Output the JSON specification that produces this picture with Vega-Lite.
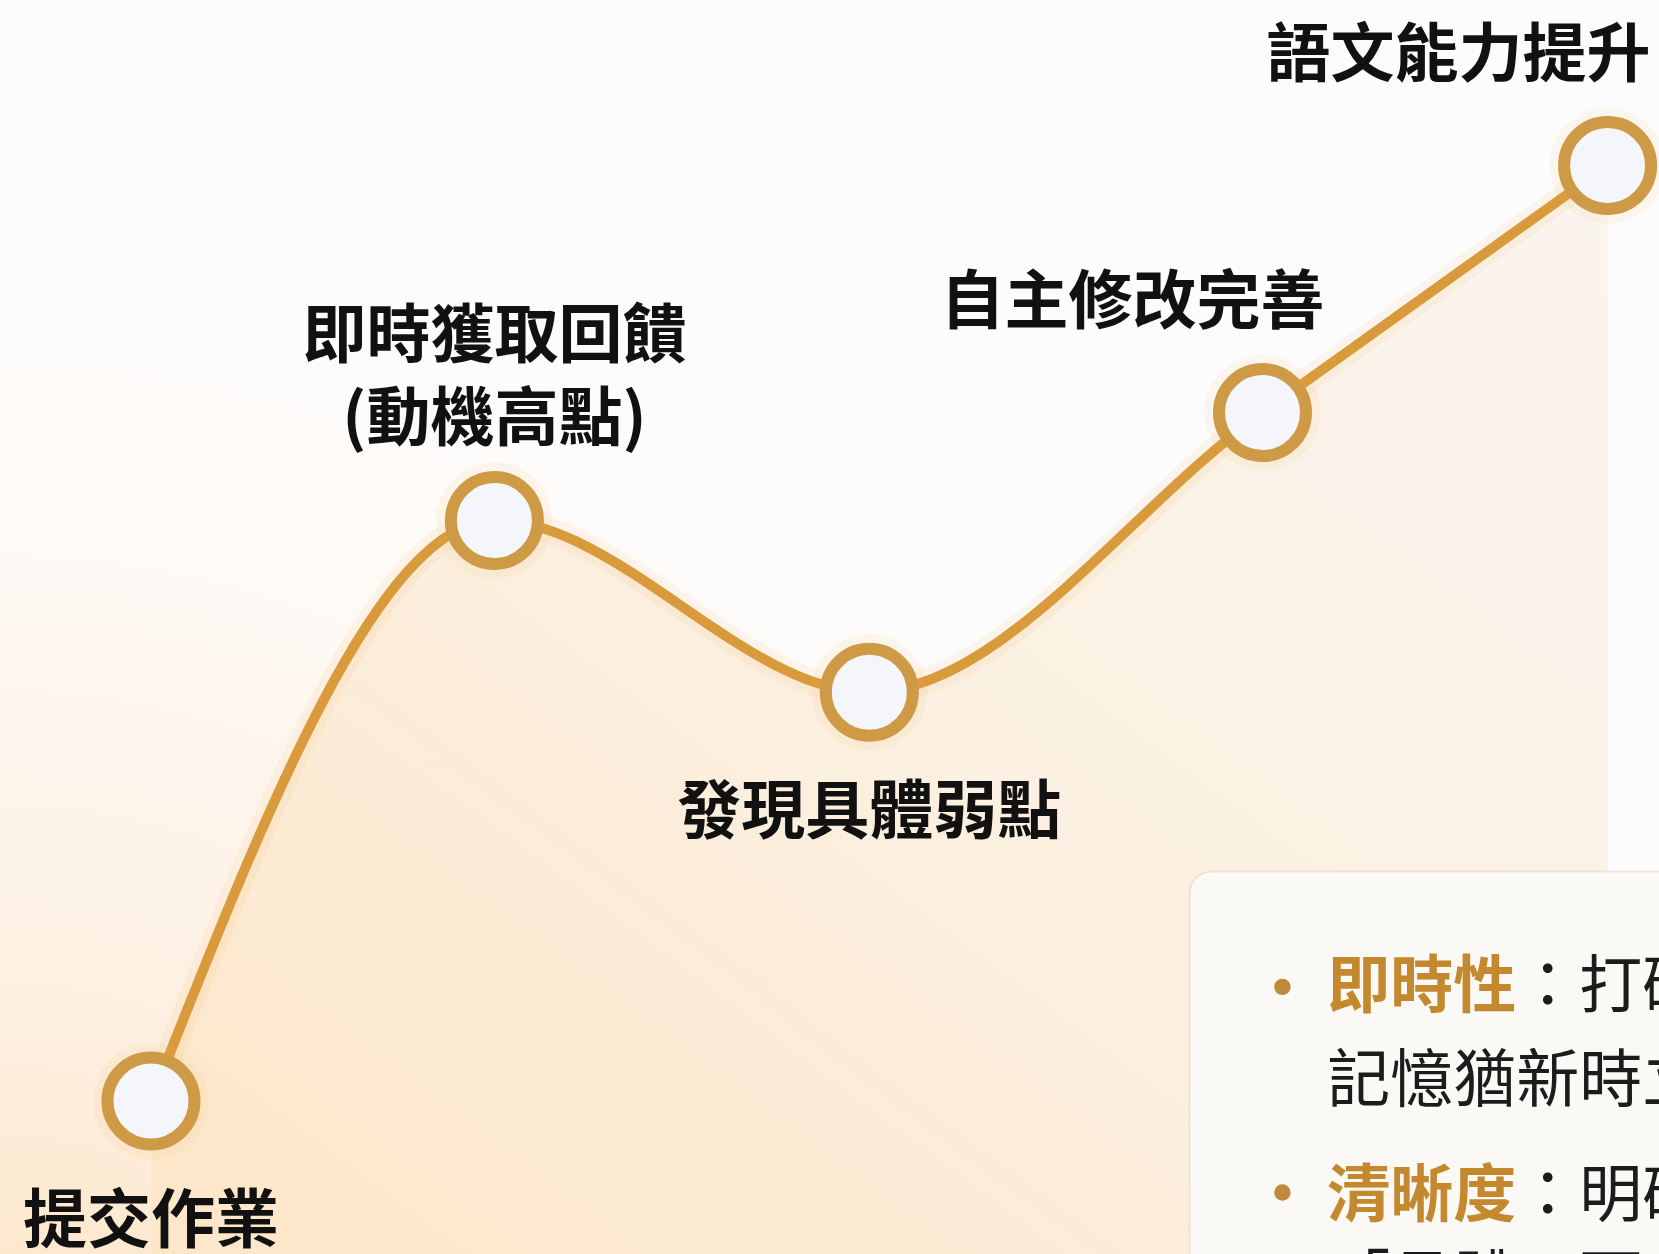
{
  "$schema": "https://vega.github.io/schema/vega-lite/v6.json",
  "width": 1659,
  "height": 1254,
  "padding": 0,
  "autosize": "none",
  "background": "#ffffff",
  "config": {"view": {"stroke": null}, "font": "Noto Sans CJK TC"},
  "datasets": {
    "steps": [
      {"step": 1, "stage": "提交作業", "progress": 9.1, "motivation": 12.2},
      {"step": 2, "stage": "即時獲取回饋\n(動機高點)", "progress": 29.8, "motivation": 58.5},
      {"step": 3, "stage": "發現具體弱點", "progress": 52.4, "motivation": 44.8},
      {"step": 4, "stage": "自主修改完善", "progress": 76.1, "motivation": 67.1},
      {"step": 5, "stage": "語文能力提升", "progress": 96.9, "motivation": 86.8}
    ],
    "notes": [
      {"part": "bullet", "text": "", "progress": 77.3, "motivation": 21.3},
      {"part": "bullet", "text": "", "progress": 77.3, "motivation": 4.9},
      {"part": "key", "text": "即時性", "progress": 80.0, "motivation": 21.2},
      {"part": "key", "text": "清晰度", "progress": 80.0, "motivation": 4.55},
      {"part": "body", "text": "：打破時間延遲，", "progress": 91.4, "motivation": 21.2},
      {"part": "body", "text": "記憶猶新時立即修正。", "progress": 80.0, "motivation": 13.7},
      {"part": "body", "text": "：明確指出問題，", "progress": 91.4, "motivation": 4.55},
      {"part": "body", "text": "「具體」而非籠統。", "progress": 80.0, "motivation": -2.3}
    ]
  },
  "layer": [
    {
      "data": {"values": [{"region": "background"}]},
      "mark": {
        "type": "rect",
        "color": {
          "gradient": "radial",
          "x1": 0.0, "y1": 1, "r1": 0,
          "x2": 0.0, "y2": 1, "r2": 0.8,
          "stops": [
            {"offset": 0, "color": "#fde2bf"},
            {"offset": 0.35, "color": "#fdf0e2"},
            {"offset": 0.75, "color": "#fefbf8"},
            {"offset": 1, "color": "#fcfcfd"}
          ]
        }
      },
      "encoding": {
        "x": {"datum": 0, "type": "quantitative", "scale": {"domain": [0, 100], "nice": false, "zero": false}, "axis": null},
        "x2": {"datum": 100},
        "y": {"datum": 0, "type": "quantitative", "scale": {"domain": [0, 100], "nice": false, "zero": false}, "axis": null},
        "y2": {"datum": 100}
      }
    },
    {
      "data": {"name": "steps"},
      "mark": {
        "type": "area",
        "interpolate": "monotone",
        "color": {
          "gradient": "linear",
          "x1": 0, "y1": 1, "x2": 1, "y2": 0,
          "stops": [
            {"offset": 0, "color": "#fde6c8"},
            {"offset": 0.5, "color": "#fbf0e1"},
            {"offset": 1, "color": "#faf5ef"}
          ]
        }
      },
      "encoding": {
        "x": {"field": "progress", "type": "quantitative"},
        "y": {"field": "motivation", "type": "quantitative"},
        "y2": {"datum": 0}
      }
    },
    {
      "data": {"name": "steps"},
      "mark": {"type": "line", "interpolate": "monotone", "color": "#f6b45c", "strokeWidth": 26, "opacity": 0.1},
      "encoding": {
        "x": {"field": "progress", "type": "quantitative"},
        "y": {"field": "motivation", "type": "quantitative"}
      }
    },
    {
      "data": {"name": "steps"},
      "mark": {"type": "line", "interpolate": "monotone", "color": "#d99a3c", "strokeWidth": 10},
      "encoding": {
        "x": {"field": "progress", "type": "quantitative"},
        "y": {"field": "motivation", "type": "quantitative"}
      }
    },
    {
      "data": {"name": "steps"},
      "mark": {"type": "point", "shape": "circle", "filled": true, "color": "#f5b55a", "size": 13500, "opacity": 0.09},
      "encoding": {
        "x": {"field": "progress", "type": "quantitative"},
        "y": {"field": "motivation", "type": "quantitative"}
      }
    },
    {
      "data": {"name": "steps"},
      "mark": {"type": "point", "shape": "circle", "filled": true, "fill": "#f4f6fb", "stroke": "#cf9a45", "strokeWidth": 12, "size": 7569, "opacity": 1},
      "encoding": {
        "x": {"field": "progress", "type": "quantitative"},
        "y": {"field": "motivation", "type": "quantitative"}
      }
    },
    {
      "data": {"name": "steps"},
      "transform": [{"filter": "datum.step == 1 || datum.step == 3"}],
      "mark": {"type": "text", "fontSize": 64, "fontWeight": "bold", "color": "#111111", "align": "center", "baseline": "middle", "dy": 122},
      "encoding": {
        "x": {"field": "progress", "type": "quantitative"},
        "y": {"field": "motivation", "type": "quantitative"},
        "text": {"field": "stage"}
      }
    },
    {
      "data": {"name": "steps"},
      "transform": [{"filter": "datum.step == 2"}],
      "mark": {"type": "text", "fontSize": 64, "fontWeight": "bold", "color": "#111111", "align": "center", "baseline": "middle", "lineBreak": "\n", "lineHeight": 83, "dy": -182},
      "encoding": {
        "x": {"field": "progress", "type": "quantitative"},
        "y": {"field": "motivation", "type": "quantitative"},
        "text": {"field": "stage"}
      }
    },
    {
      "data": {"name": "steps"},
      "transform": [{"filter": "datum.step == 4"}],
      "mark": {"type": "text", "fontSize": 64, "fontWeight": "bold", "color": "#111111", "align": "center", "baseline": "middle", "dx": -130, "dy": -109},
      "encoding": {
        "x": {"field": "progress", "type": "quantitative"},
        "y": {"field": "motivation", "type": "quantitative"},
        "text": {"field": "stage"}
      }
    },
    {
      "data": {"name": "steps"},
      "transform": [{"filter": "datum.step == 5"}],
      "mark": {"type": "text", "fontSize": 64, "fontWeight": "bold", "color": "#111111", "align": "center", "baseline": "middle", "dx": -149, "dy": -109},
      "encoding": {
        "x": {"field": "progress", "type": "quantitative"},
        "y": {"field": "motivation", "type": "quantitative"},
        "text": {"field": "stage"}
      }
    },
    {
      "data": {"values": [{"region": "panel"}]},
      "mark": {"type": "rect", "clip": true, "cornerRadius": 22, "fill": "#fbf9f6", "stroke": "#ede3d6", "strokeWidth": 2},
      "encoding": {
        "x": {"datum": 71.7, "type": "quantitative"},
        "x2": {"datum": 110},
        "y": {"datum": 30.5, "type": "quantitative"},
        "y2": {"datum": -10}
      }
    },
    {
      "data": {"name": "notes"},
      "transform": [{"filter": "datum.part == 'bullet'"}],
      "mark": {"type": "point", "shape": "circle", "filled": true, "color": "#c08a3a", "size": 270, "opacity": 1},
      "encoding": {
        "x": {"field": "progress", "type": "quantitative"},
        "y": {"field": "motivation", "type": "quantitative"}
      }
    },
    {
      "data": {"name": "notes"},
      "transform": [{"filter": "datum.part == 'key'"}],
      "mark": {"type": "text", "clip": true, "fontSize": 63, "fontWeight": "bold", "color": "#c4882f", "align": "left", "baseline": "middle"},
      "encoding": {
        "x": {"field": "progress", "type": "quantitative"},
        "y": {"field": "motivation", "type": "quantitative"},
        "text": {"field": "text"}
      }
    },
    {
      "data": {"name": "notes"},
      "transform": [{"filter": "datum.part == 'body'"}],
      "mark": {"type": "text", "clip": true, "fontSize": 63, "fontWeight": "normal", "color": "#1c1c1c", "align": "left", "baseline": "middle"},
      "encoding": {
        "x": {"field": "progress", "type": "quantitative"},
        "y": {"field": "motivation", "type": "quantitative"},
        "text": {"field": "text"}
      }
    }
  ]
}
